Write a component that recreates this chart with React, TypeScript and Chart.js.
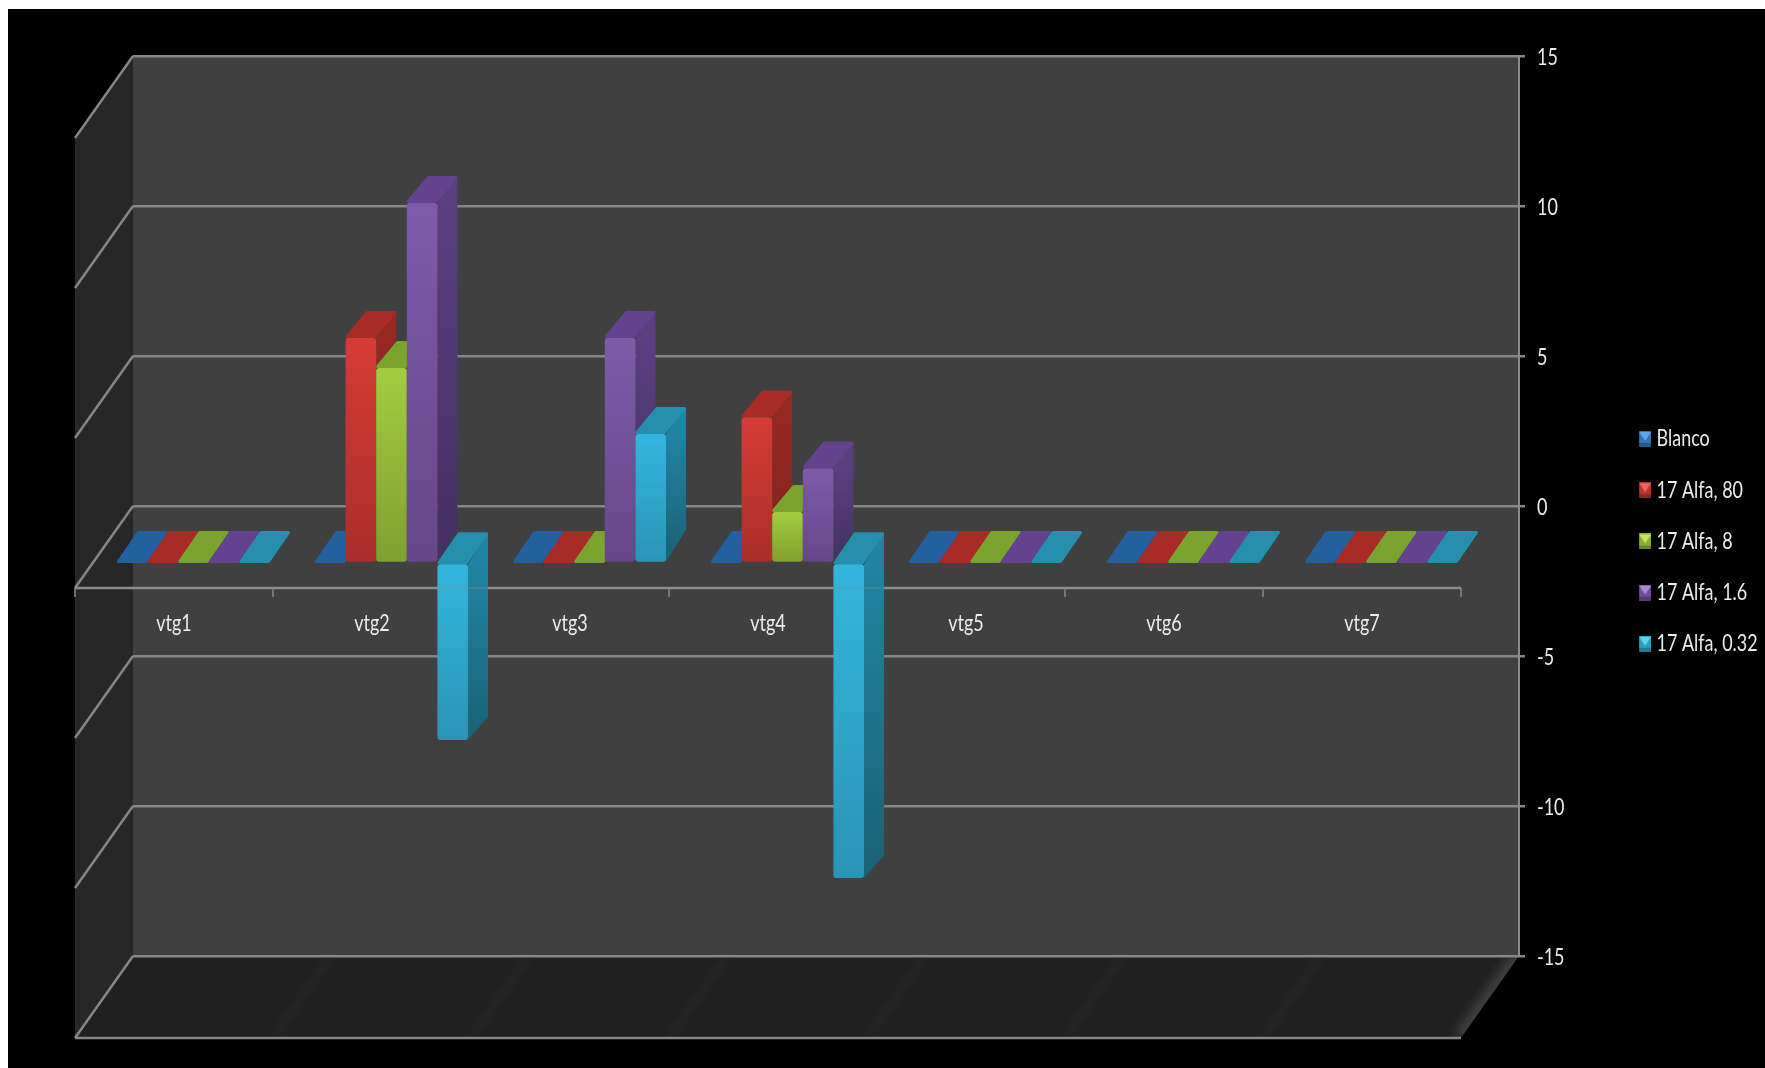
import React, { useEffect, useRef } from "react";
import { Chart, registerables } from "chart.js";

Chart.register(...registerables);

// Chart data
const categories = ["vtg1", "vtg2", "vtg3", "vtg4", "vtg5", "vtg6", "vtg7"];
const seriesNames = ["Blanco", "17 Alfa, 80", "17 Alfa, 8", "17 Alfa, 1.6", "17 Alfa, 0.32"];
const blanco = [0, 0, 0, 0, 0, 0, 0];
const alfa80 = [0, 7.5, 0, 4.85, 0, 0, 0];
const alfa8 = [0, 6.5, 0, 1.7, 0, 0, 0];
const alfa16 = [0, 12, 7.5, 3.15, 0, 0, 0];
const alfa032 = [0, -5.9, 4.3, -10.5, 0, 0, 0];
const seriesValues = [blanco, alfa80, alfa8, alfa16, alfa032];

// Per-series shading of the 3D bars
const frontTop = ["#2f6cb0", "#d63b34", "#a3cd3f", "#7f5aa9", "#33b6de"];
const frontBottom = ["#265f9e", "#a92e2a", "#7f9f2f", "#664689", "#2a94b6"];
const capColor = ["#245f9f", "#a82b27", "#7ba42e", "#64428d", "#2490ae"];
const sideColor = ["#1c4a7c", "#962822", "#5f7d24", "#593f80", "#2184a2"];
const sideLowColor = ["#1c4a7c", "#7f221d", "#5f7d24", "#443062", "#1a6175"];
const iconBase = ["#2f73bb", "#b8322e", "#8aae33", "#6f4f9a", "#2a9fc2"];
const iconLight = ["#5da9ec", "#f0605a", "#c9e45c", "#a78bd0", "#5fd3f0"];

// Oblique projection used by the walls, floor and bars
const WALL_DX = -58;
const WALL_DY = 82;
const BAR_DX = -38.5;
const BAR_DY = 57;
const CAP_DX = 20;
const CAP_DY_UP = 27;
const CAP_DY_FLAT = 32;
const CAP_DY_LOW = 23;

const LINE_GRAY = "#868686";
const LINE_WIDTH = 2.5;
const TEXT_COLOR = "#ececec";
const FONT_FAMILY = "Lato, 'Liberation Sans', sans-serif";
const FONT_SIZE = 23;
const TEXT_SQUEEZE = 0.78;

function makeIcon(i: number) {
  const shift = 2;
  const w = 12;
  const h = 16;
  const c = document.createElement("canvas");
  c.width = w + shift * 2;
  c.height = h;
  const g = c.getContext("2d")!;
  const left = shift * 2;
  g.fillStyle = iconBase[i];
  g.fillRect(left, 0, w, h);
  g.fillStyle = iconLight[i];
  g.beginPath();
  g.moveTo(left, 1);
  g.lineTo(left + w, 1);
  g.lineTo(left + w / 2, h / 2 + 2);
  g.closePath();
  g.fill();
  g.fillStyle = "rgba(0,0,0,0.22)";
  g.fillRect(left, h - 4, w, 4);
  return c;
}

function poly(ctx: CanvasRenderingContext2D, pts: number[][], fill: any) {
  ctx.beginPath();
  pts.forEach(([x, y], k) => (k ? ctx.lineTo(x, y) : ctx.moveTo(x, y)));
  ctx.closePath();
  ctx.fillStyle = fill;
  ctx.fill();
}

function segment(ctx: CanvasRenderingContext2D, x1: number, y1: number, x2: number, y2: number) {
  ctx.beginPath();
  ctx.moveTo(x1, y1);
  ctx.lineTo(x2, y2);
  ctx.stroke();
}

const roomPlugin = {
  id: "room",
  beforeDraw(chart: any) {
    const { ctx, chartArea: a, width, height } = chart;
    ctx.save();
    ctx.fillStyle = "#000";
    ctx.fillRect(0, 0, width, height);
    poly(ctx, [[a.left, a.top], [a.right, a.top], [a.right, a.bottom], [a.left, a.bottom]], "#404040");
    poly(ctx, [[a.left, a.top], [a.left + WALL_DX, a.top + WALL_DY], [a.left + WALL_DX, a.bottom + WALL_DY], [a.left, a.bottom]], "#272727");
    const floor = [[a.left, a.bottom], [a.right, a.bottom], [a.right + WALL_DX, a.bottom + WALL_DY], [a.left + WALL_DX, a.bottom + WALL_DY]];
    poly(ctx, floor, "#202020");

    // soft bands on the floor at each category boundary
    ctx.save();
    ctx.beginPath();
    floor.forEach(([x, y], k) => (k ? ctx.lineTo(x, y) : ctx.moveTo(x, y)));
    ctx.closePath();
    ctx.clip();
    const step = (a.right - a.left) / categories.length;
    for (let i = 1; i <= categories.length; i++) {
      const x = a.left + i * step;
      const last = i === categories.length;
      ctx.filter = last ? "blur(6px)" : "blur(4px)";
      ctx.strokeStyle = last ? "rgba(255,255,255,0.16)" : "rgba(255,255,255,0.035)";
      ctx.lineWidth = last ? 14 : 6;
      segment(ctx, x, a.bottom, x + WALL_DX, a.bottom + WALL_DY);
    }
    ctx.restore();
    ctx.restore();
  },
  afterLayout(chart: any) {
    // the legend sits in the black margin right of the value axis
    const legend = chart.legend;
    if (!legend) return;
    legend.left = 1604.9;
    legend.right = 1757;
    legend.top = 390.3;
    legend.bottom = 1059;
  },
  beforeDatasetsDraw(chart: any) {
    const { ctx, chartArea: a, scales } = chart;
    const y = scales.y;
    const x = scales.x;
    const step = (a.right - a.left) / categories.length;

    ctx.save();
    ctx.strokeStyle = LINE_GRAY;
    ctx.lineWidth = LINE_WIDTH;
    // grid lines carried across the side wall
    y.ticks.forEach((t: any) => {
      if (t.value === -15) return;
      const py = y.getPixelForValue(t.value);
      segment(ctx, a.left, py, a.left + WALL_DX, py + WALL_DY);
    });
    segment(ctx, a.left, a.bottom, a.left + WALL_DX, a.bottom + WALL_DY);
    segment(ctx, a.left + WALL_DX, a.bottom + WALL_DY, a.right + WALL_DX, a.bottom + WALL_DY);

    // category axis on the front edge, at the zero level
    const y0 = y.getPixelForValue(0) + WALL_DY;
    ctx.strokeStyle = "#8c8c8c";
    segment(ctx, a.left + WALL_DX, y0, a.right + WALL_DX, y0);
    ctx.lineWidth = 1.5;
    for (let i = 0; i <= categories.length; i++) {
      const tx = a.left + WALL_DX + i * step;
      segment(ctx, tx, y0, tx, y0 + 9);
    }
    ctx.fillStyle = TEXT_COLOR;
    ctx.font = `${FONT_SIZE}px ${FONT_FAMILY}`;
    ctx.textAlign = "center";
    ctx.textBaseline = "middle";
    x.getLabels().forEach((label: string, i: number) => {
      ctx.fillText(label, x.getPixelForValue(i) + WALL_DX, y0 + 36);
    });
    ctx.restore();

    // bars are painted left to right so that each covers its neighbour's side face
    ctx.save();
    ctx.translate(BAR_DX, BAR_DY);
    const metas = chart.getSortedVisibleDatasetMetas();
    metas.forEach((meta: any) => {
      const s = meta.index;
      meta.data.forEach((el: any) => {
        const half = el.width / 2;
        const r = el.x + half;
        const l = el.x - half;
        const top = Math.min(el.y, el.base);
        const bottom = Math.max(el.y, el.base);
        const rising = el.y < el.base - 0.5;
        const falling = el.y > el.base + 0.5;
        const capDy = rising ? CAP_DY_UP : CAP_DY_FLAT;
        const lowDy = falling ? CAP_DY_LOW : CAP_DY_FLAT;
        if (rising || falling) {
          const shade = ctx.createLinearGradient(0, top, 0, bottom);
          shade.addColorStop(0, sideColor[s]);
          shade.addColorStop(1, sideLowColor[s]);
          poly(ctx, [[r, top], [r + CAP_DX, top - capDy], [r + CAP_DX, bottom - lowDy], [r, bottom]], shade);
        }
        ctx.lineJoin = "round";
        ctx.lineWidth = 3;
        ctx.strokeStyle = capColor[s];
        ctx.beginPath();
        ctx.moveTo(l + 1.5, top - 1.5);
        ctx.lineTo(r - 1.5, top - 1.5);
        ctx.lineTo(r + CAP_DX - 1.5, top - capDy + 1.5);
        ctx.lineTo(l + CAP_DX + 1.5, top - capDy + 1.5);
        ctx.closePath();
        ctx.stroke();
        ctx.fillStyle = capColor[s];
        ctx.fill();
      });
      meta.controller.draw();
    });
    ctx.restore();

    // axis line faintly visible through the bars that cross it
    ctx.save();
    ctx.strokeStyle = "rgba(140,140,140,0.3)";
    ctx.lineWidth = 2;
    segment(ctx, a.left + WALL_DX, y0, a.right + WALL_DX, y0);
    ctx.restore();
    return false;
  },
};

export default function App() {
  const ref = useRef<HTMLCanvasElement>(null);

  useEffect(() => {
    const canvas = ref.current!;
    const icons = seriesNames.map((_, i) => makeIcon(i));

    // all labels use a condensed cut of the font
    const ctx2d: any = canvas.getContext("2d")!;
    const plainFillText = ctx2d.fillText.bind(ctx2d);
    ctx2d.fillText = (text: string, px: number, py: number) => {
      ctx2d.save();
      ctx2d.translate(px, py);
      ctx2d.scale(TEXT_SQUEEZE, 1);
      plainFillText(text, 0, 0);
      ctx2d.restore();
    };

    const chart = new Chart(canvas, {
      type: "bar",
      data: {
        labels: categories,
        datasets: seriesNames.map((name, i) => ({
          label: name,
          data: seriesValues[i],
          categoryPercentage: 0.773,
          barPercentage: 1,
          borderRadius: 3,
          borderSkipped: false,
          backgroundColor: (c: any) => {
            const el = c.chart;
            if (!el.chartArea || c.raw === undefined || c.raw === 0) return capColor[i];
            const py = el.scales.y.getPixelForValue(c.raw);
            const p0 = el.scales.y.getPixelForValue(0);
            const g = el.ctx.createLinearGradient(0, Math.min(py, p0), 0, Math.max(py, p0));
            g.addColorStop(0, frontTop[i]);
            g.addColorStop(1, frontBottom[i]);
            return g;
          },
        })),
      },
      options: {
        responsive: false,
        animation: false,
        devicePixelRatio: 1,
        layout: { padding: { left: 125, top: 47, bottom: 112, right: 186 } },
        scales: {
          x: { display: false, grid: { display: false } },
          y: {
            position: "right",
            min: -15,
            max: 15,
            afterFit: (s: any) => {
              s.width = 60;
            },
            ticks: {
              stepSize: 5,
              padding: 12,
              labelOffset: 2,
              color: TEXT_COLOR,
              font: { family: FONT_FAMILY, size: FONT_SIZE },
            },
            grid: { color: LINE_GRAY, lineWidth: LINE_WIDTH, tickLength: 6 },
            border: { color: "#8c8c8c", width: 2 },
          },
        },
        plugins: {
          title: { display: false },
          tooltip: { enabled: false },
          legend: {
            display: true,
            position: "chartArea",
            align: "start",
            labels: {
              usePointStyle: true,
              pointStyleWidth: 4,
              padding: 28.2,
              color: TEXT_COLOR,
              font: { family: FONT_FAMILY, size: FONT_SIZE },
              generateLabels: () =>
                seriesNames.map((name, i) => ({
                  text: name,
                  pointStyle: icons[i],
                  fontColor: TEXT_COLOR,
                  lineWidth: 0,
                  datasetIndex: i,
                })),
            },
          },
        },
      },
      plugins: [roomPlugin],
    } as any);
    return () => {
      chart.destroy();
      delete ctx2d.fillText;
    };
  }, []);

  return (
    <div style={{ position: "fixed", left: 8, top: 9, width: 1757, height: 1059 }}>
      <canvas ref={ref} width={1757} height={1059} style={{ display: "block" }} />
    </div>
  );
}
